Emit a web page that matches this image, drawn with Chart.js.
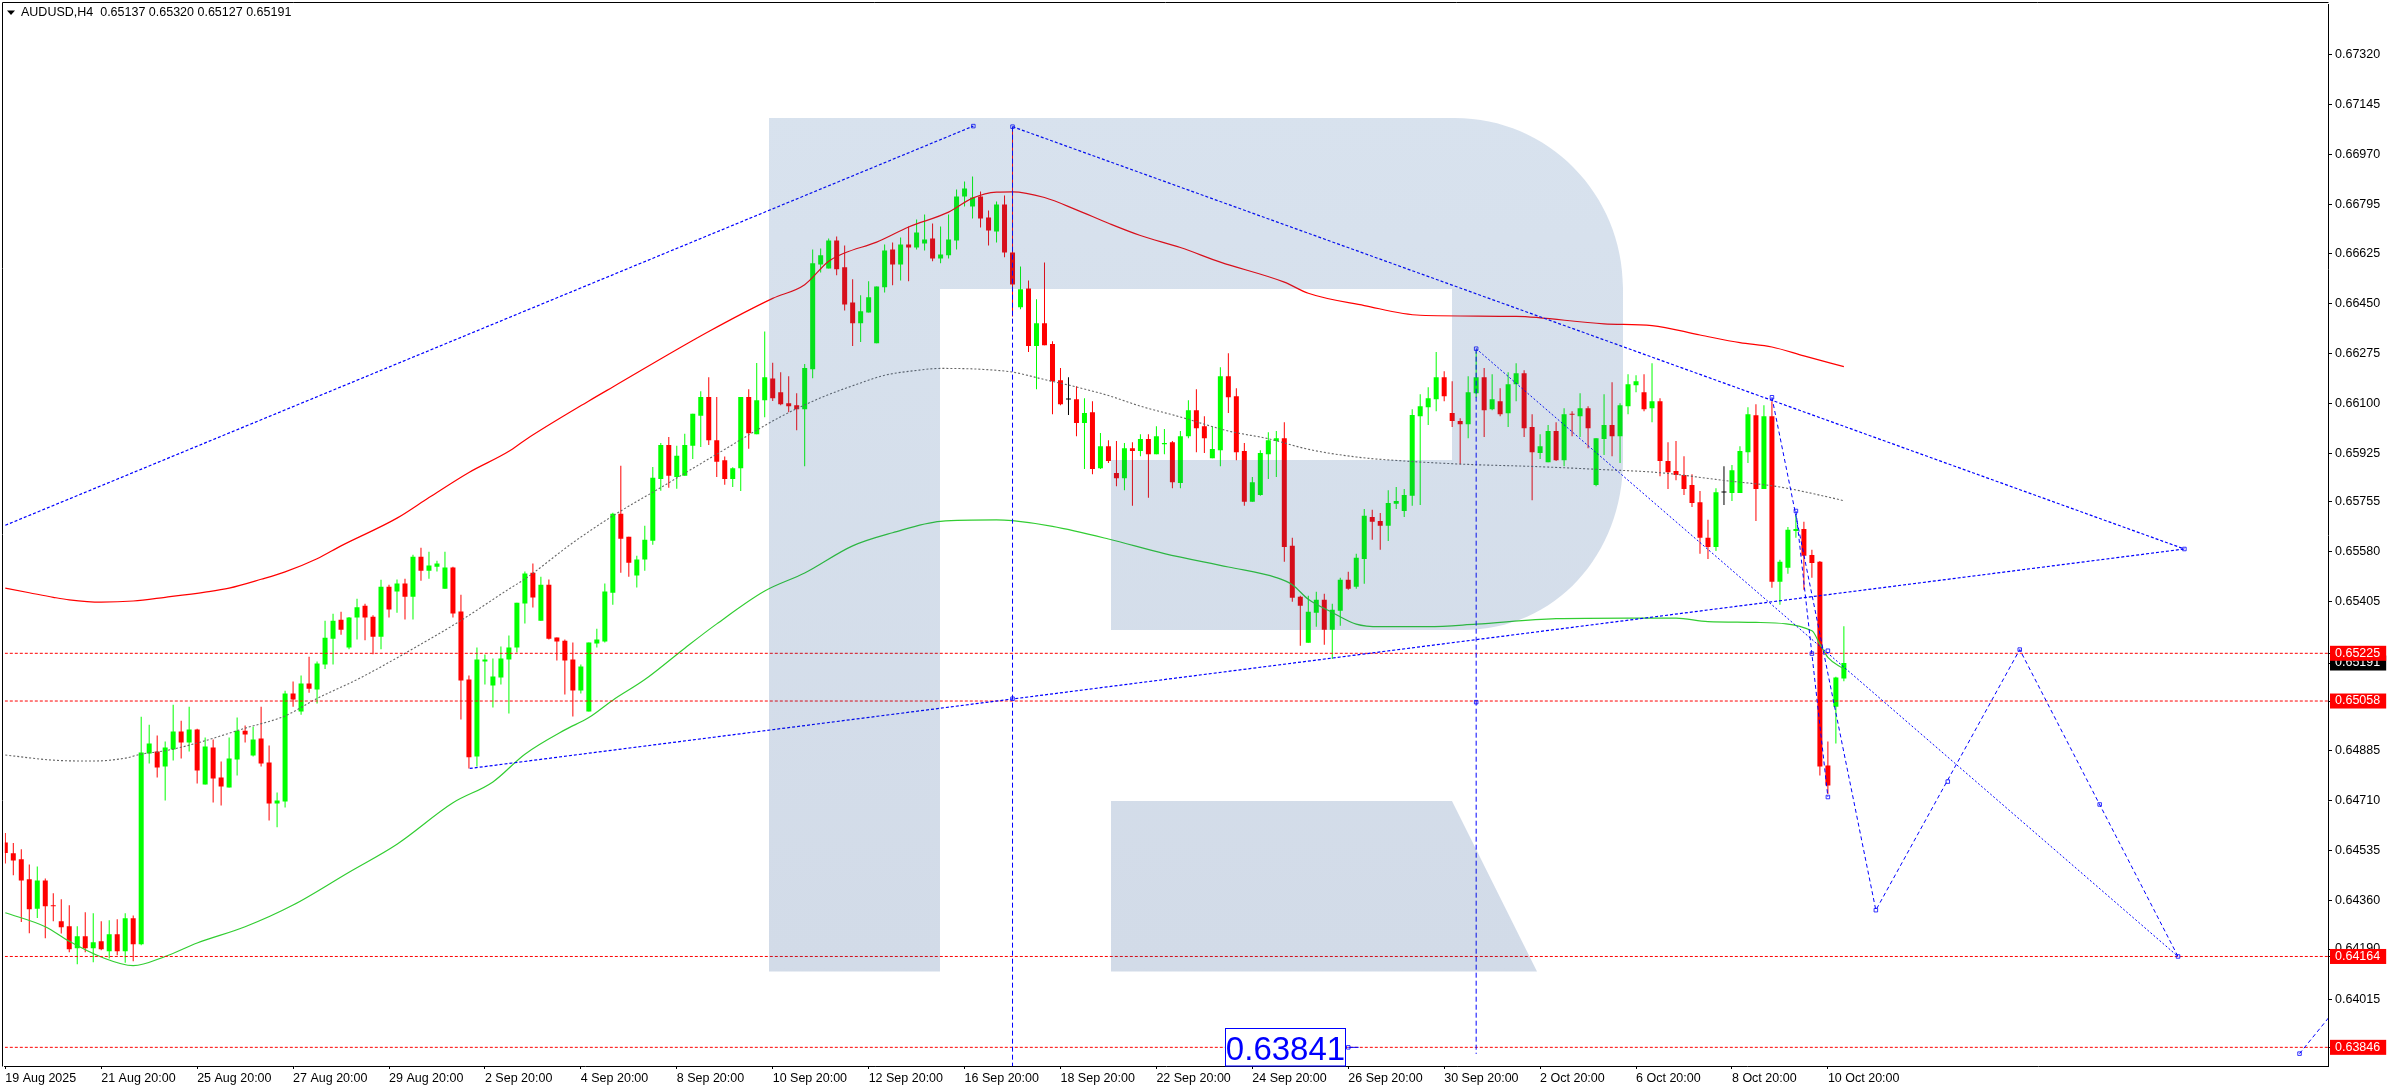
<!DOCTYPE html>
<html><head><meta charset="utf-8">
<style>html,body{margin:0;padding:0;background:#fff}canvas{display:block}</style>
<script src="https://cdn.jsdelivr.net/npm/chart.js@4"></script>
</head><body><canvas id="c" width="2392" height="1090"></canvas>
<script>
const open=[
0.64563,0.64525,0.64504,0.64434,0.64331,0.64430,0.64343,0.64287,0.64270,0.64193,
0.64235,0.64193,0.64217,0.64182,0.64242,0.64182,0.64298,0.64207,0.64874,0.64881,
0.64829,0.64888,0.64951,0.64913,0.64958,0.64766,0.64895,0.64790,0.64755,0.64853,
0.64954,0.64867,0.64927,0.64843,0.64699,0.64706,0.65084,0.65021,0.65119,0.65098,
0.65186,0.65276,0.65342,0.65245,0.65350,0.65391,0.65353,0.65283,0.65458,0.65441,
0.65469,0.65423,0.65563,0.65514,0.65528,0.65451,0.65525,0.65371,0.65133,0.64864,
0.65196,0.65112,0.65140,0.65203,0.65245,0.65399,0.65507,0.65339,0.65465,0.65280,
0.65269,0.65203,0.65095,0.65021,0.65259,0.65266,0.65437,0.65713,0.65633,0.65497,
0.65553,0.65619,0.65835,0.65954,0.65842,0.65846,0.65951,0.66056,0.66122,0.65971,
0.65901,0.65835,0.65873,0.66122,0.65992,0.66111,0.66187,0.66139,0.66100,0.66093,
0.66079,0.66219,0.66586,0.66572,0.66670,0.66576,0.66453,0.66380,0.66418,0.66310,
0.66506,0.66638,0.66586,0.66656,0.66645,0.66659,0.66677,0.66607,0.66618,0.66670,
0.66824,0.66789,0.66824,0.66750,0.66701,0.66796,0.66628,0.66436,0.66502,0.66300,
0.66380,0.66307,0.66181,0.66113,0.66114,0.66031,0.66069,0.65873,0.65950,0.65856,
0.65838,0.65943,0.65933,0.65975,0.65922,0.65957,0.65964,0.65821,0.65985,0.66076,
0.66020,0.65908,0.65936,0.66195,0.66125,0.65933,0.65755,0.65779,0.65922,0.65968,
0.65978,0.65601,0.65423,0.65262,0.65367,0.65412,0.65307,0.65374,0.65482,0.65458,
0.65555,0.65702,0.65688,0.65671,0.65748,0.65723,0.65776,0.66055,0.66086,0.66114,
0.66191,0.66066,0.66038,0.66027,0.66135,0.66191,0.66079,0.66107,0.66065,0.66167,
0.66205,0.66017,0.65926,0.65894,0.66003,0.65901,0.66063,0.66055,0.66083,0.65814,
0.65975,0.66024,0.65985,0.66090,0.66163,0.66139,0.66083,0.66107,0.65898,0.65863,
0.65849,0.65814,0.65754,0.65629,0.65597,0.65788,0.65786,0.65786,0.65929,0.66058,
0.65800,0.66055,0.65475,0.65524,0.65653,0.65660,0.65569,0.65545,0.64832,0.65038,
0.65137];
const high=[
0.64596,0.64561,0.64539,0.64486,0.64479,0.64437,0.64385,0.64364,0.64343,0.64270,
0.64319,0.64315,0.64287,0.64291,0.64294,0.64315,0.64307,0.65003,0.64975,0.64937,
0.64916,0.65045,0.64989,0.65038,0.64961,0.64930,0.64923,0.64846,0.64930,0.65000,
0.64972,0.64968,0.65038,0.64902,0.64738,0.65094,0.65126,0.65147,0.65213,0.65196,
0.65339,0.65363,0.65370,0.65352,0.65416,0.65398,0.65358,0.65482,0.65465,0.65483,
0.65486,0.65570,0.65594,0.65580,0.65549,0.65580,0.65528,0.65430,0.65147,0.65245,
0.65221,0.65207,0.65249,0.65287,0.65402,0.65511,0.65539,0.65493,0.65483,0.65280,
0.65273,0.65263,0.65186,0.65263,0.65311,0.65469,0.65717,0.65881,0.65633,0.65566,
0.65671,0.65877,0.65961,0.65982,0.65951,0.65993,0.66063,0.66142,0.66191,0.66122,
0.65914,0.65876,0.66122,0.66149,0.66241,0.66351,0.66242,0.66209,0.66195,0.66135,
0.66237,0.66638,0.66642,0.66677,0.66684,0.66652,0.66534,0.66478,0.66527,0.66509,
0.66656,0.66663,0.66680,0.66719,0.66743,0.66761,0.66729,0.66719,0.66761,0.66848,
0.66876,0.66894,0.66841,0.66775,0.66806,0.66827,0.67061,0.66579,0.66530,0.66464,
0.66593,0.66317,0.66223,0.66191,0.66160,0.66118,0.66107,0.65996,0.65971,0.65968,
0.65961,0.65964,0.65992,0.65992,0.66020,0.66010,0.65968,0.66003,0.66111,0.66149,
0.66055,0.66020,0.66226,0.66275,0.66153,0.65961,0.65842,0.65936,0.65999,0.66003,
0.66034,0.65629,0.65426,0.65426,0.65440,0.65433,0.65398,0.65489,0.65510,0.65573,
0.65730,0.65727,0.65716,0.65796,0.65807,0.65800,0.66079,0.66132,0.66156,0.66279,
0.66212,0.66177,0.66048,0.66195,0.66282,0.66223,0.66202,0.66153,0.66209,0.66240,
0.66216,0.66062,0.65992,0.66024,0.66034,0.66083,0.66072,0.66135,0.66090,0.65978,
0.66132,0.66174,0.66100,0.66202,0.66198,0.66202,0.66240,0.66118,0.65964,0.65968,
0.65915,0.65852,0.65793,0.65692,0.65803,0.65880,0.65884,0.65950,0.66086,0.66097,
0.66093,0.66107,0.65552,0.65667,0.65711,0.65685,0.65587,0.65548,0.64916,0.65143,
0.65320];
const low=[
0.64489,0.64448,0.64285,0.64245,0.64299,0.64228,0.64287,0.64244,0.64179,0.64137,
0.64179,0.64144,0.64186,0.64157,0.64168,0.64142,0.64147,0.64203,0.64839,0.64790,
0.64710,0.64850,0.64857,0.64881,0.64769,0.64766,0.64703,0.64692,0.64755,0.64797,
0.64913,0.64864,0.64829,0.64640,0.64616,0.64685,0.65038,0.65010,0.65087,0.65049,
0.65170,0.65186,0.65290,0.65239,0.65273,0.65271,0.65222,0.65239,0.65350,0.65367,
0.65343,0.65343,0.65479,0.65486,0.65511,0.65451,0.65350,0.64993,0.64822,0.64829,
0.65116,0.65035,0.65116,0.65014,0.65228,0.65329,0.65385,0.65339,0.65273,0.65200,
0.65081,0.65004,0.65084,0.65021,0.65245,0.65263,0.65395,0.65507,0.65493,0.65455,
0.65514,0.65605,0.65794,0.65804,0.65801,0.65846,0.65905,0.65947,0.65954,0.65842,
0.65815,0.65807,0.65793,0.65941,0.65992,0.66051,0.66108,0.66093,0.66069,0.66006,
0.65880,0.66188,0.66558,0.66572,0.66548,0.66425,0.66300,0.66314,0.66418,0.66310,
0.66488,0.66513,0.66530,0.66527,0.66638,0.66635,0.66597,0.66590,0.66607,0.66638,
0.66789,0.66747,0.66715,0.66652,0.66663,0.66611,0.66404,0.66429,0.66279,0.66149,
0.66303,0.66062,0.66093,0.66059,0.65985,0.65870,0.65852,0.65870,0.65891,0.65810,
0.65796,0.65741,0.65915,0.65769,0.65922,0.65922,0.65803,0.65803,0.65978,0.65929,
0.65926,0.65908,0.65880,0.66066,0.65901,0.65741,0.65755,0.65776,0.65835,0.65842,
0.65545,0.65405,0.65251,0.65262,0.65318,0.65255,0.65205,0.65321,0.65447,0.65451,
0.65468,0.65622,0.65587,0.65618,0.65730,0.65702,0.65741,0.65744,0.66024,0.66072,
0.66107,0.66017,0.65887,0.65978,0.66119,0.65982,0.66076,0.66055,0.66017,0.66107,
0.65982,0.65761,0.65905,0.65894,0.65898,0.65880,0.65985,0.65982,0.65943,0.65810,
0.65919,0.65915,0.65891,0.66062,0.66139,0.66072,0.66034,0.65845,0.65800,0.65831,
0.65779,0.65737,0.65573,0.65555,0.65583,0.65744,0.65758,0.65786,0.65891,0.65688,
0.65800,0.65454,0.65395,0.65503,0.65629,0.65447,0.65489,0.64797,0.64733,0.64909,
0.65127];
const close=[
0.64526,0.64500,0.64430,0.64329,0.64430,0.64340,0.64340,0.64266,0.64189,0.64235,
0.64193,0.64214,0.64189,0.64242,0.64182,0.64298,0.64207,0.64878,0.64909,0.64825,
0.64895,0.64951,0.64913,0.64958,0.64815,0.64899,0.64787,0.64759,0.64857,0.64954,
0.64941,0.64923,0.64839,0.64699,0.64710,0.65084,0.65063,0.65119,0.65101,0.65189,
0.65279,0.65339,0.65307,0.65350,0.65386,0.65350,0.65283,0.65458,0.65378,0.65469,
0.65423,0.65563,0.65514,0.65532,0.65539,0.65525,0.65364,0.65130,0.64861,0.65203,
0.65203,0.65144,0.65207,0.65245,0.65402,0.65504,0.65420,0.65465,0.65276,0.65266,
0.65200,0.65095,0.65179,0.65263,0.65273,0.65441,0.65713,0.65626,0.65542,0.65553,
0.65622,0.65839,0.65954,0.65846,0.65916,0.65954,0.66063,0.66122,0.65971,0.65895,
0.65835,0.65873,0.66122,0.65995,0.66111,0.66191,0.66118,0.66097,0.66090,0.66079,
0.66223,0.66590,0.66618,0.66670,0.66569,0.66446,0.66380,0.66422,0.66471,0.66509,
0.66635,0.66586,0.66656,0.66645,0.66698,0.66673,0.66607,0.66621,0.66673,0.66824,
0.66852,0.66820,0.66747,0.66705,0.66796,0.66628,0.66516,0.66499,0.66300,0.66380,
0.66303,0.66177,0.66097,0.66113,0.66031,0.66066,0.65870,0.65950,0.65898,0.65838,
0.65943,0.65933,0.65975,0.65922,0.65985,0.65961,0.65824,0.65985,0.66076,0.66013,
0.65978,0.65940,0.66195,0.66121,0.65929,0.65755,0.65824,0.65926,0.65971,0.65978,
0.65597,0.65419,0.65391,0.65370,0.65412,0.65307,0.65377,0.65482,0.65451,0.65559,
0.65706,0.65685,0.65671,0.65751,0.65758,0.65779,0.66059,0.66090,0.66118,0.66191,
0.66125,0.66038,0.66027,0.66139,0.66191,0.66076,0.66114,0.66062,0.66167,0.66205,
0.66013,0.65929,0.65950,0.66003,0.65901,0.66062,0.66060,0.66083,0.66013,0.65978,
0.66024,0.65985,0.66093,0.66167,0.66177,0.66079,0.66107,0.65898,0.65859,0.65849,
0.65800,0.65751,0.65629,0.65597,0.65789,0.65788,0.65866,0.65933,0.66062,0.65800,
0.66055,0.65475,0.65545,0.65657,0.65660,0.65566,0.65541,0.64829,0.64762,0.65140,
0.65191];

const dateLabels=['19 Aug 2025','21 Aug 20:00','25 Aug 20:00','27 Aug 20:00','29 Aug 20:00','2 Sep 20:00','4 Sep 20:00','8 Sep 20:00','10 Sep 20:00','12 Sep 20:00','16 Sep 20:00','18 Sep 20:00','22 Sep 20:00','24 Sep 20:00','26 Sep 20:00','30 Sep 20:00','2 Oct 20:00','6 Oct 20:00','8 Oct 20:00','10 Oct 20:00'];
const dateTickBars=[0,12,24,36,48,60,72,84,96,108,120,132,144,156,168,180,192,204,216,228];

const priceTicks=[0.67320,0.67145,0.66970,0.66795,0.66625,0.66450,0.66275,0.66100,0.65925,0.65755,0.65580,0.65405,0.64885,0.64710,0.64535,0.64360,0.64190,0.64015];
const currentPrice=0.65191;
const levels=[0.65225,0.65058,0.64164,0.63846];

const slowMaX=[0,3,6,8,12,16,20,25,28,32,35,39,42,49,53,58,63,65,73,76,88,96,100,103,105,109,113,118,121,124,126,130,134,138,142,147,152,160,163,170,177,189,200,206,212,217,221,225,230];
const slowMaY=[0.65453,0.65437,0.65421,0.65412,0.65404,0.65408,0.65421,0.65439,0.65453,0.65484,0.65510,0.65556,0.65601,0.65698,0.65770,0.65858,0.65932,0.65971,0.66108,0.66157,0.66351,0.66467,0.66515,0.66597,0.66626,0.66664,0.66717,0.66769,0.66818,0.66839,0.66840,0.66820,0.66777,0.66730,0.66687,0.66645,0.66594,0.66524,0.66485,0.66442,0.66408,0.66404,0.66378,0.66372,0.66339,0.66312,0.66297,0.66266,0.66228];
const midMaX=[0,6,11,15,17,20,24,30,35,39,44,50,57,63,65,71,76,82,89,97,102,107,110,114,117,122,126,130,134,138,142,147,153,158,163,169,175,183,191,199,207,215,222,228,230];
const midMaY=[0.64869,0.64851,0.64848,0.64858,0.64872,0.64884,0.64911,0.64963,0.65006,0.65067,0.65133,0.65225,0.65340,0.65450,0.65485,0.65612,0.65706,0.65805,0.65922,0.66053,0.66119,0.66171,0.66198,0.66215,0.66222,0.66219,0.66209,0.66183,0.66157,0.66127,0.66090,0.66052,0.66003,0.65976,0.65939,0.65912,0.65898,0.65886,0.65879,0.65869,0.65857,0.65830,0.65807,0.65772,0.65759];
const fastMaX=[0,5,8,12,16,20,24,30,36,43,49,56,61,65,70,73,76,80,85,89,95,100,106,111,117,124,126,131,138,145,153,159,161,163,166,169,172,178,184,194,203,209,213,219,226,227,228,230];
const fastMaY=[0.64317,0.64268,0.64217,0.64162,0.64132,0.64164,0.64211,0.64268,0.64344,0.64459,0.64557,0.64702,0.64775,0.64872,0.64957,0.65000,0.65061,0.65133,0.65243,0.65328,0.65443,0.65506,0.65601,0.65647,0.65687,0.65692,0.65689,0.65669,0.65625,0.65574,0.65527,0.65490,0.65465,0.65414,0.65368,0.65327,0.65318,0.65318,0.65327,0.65346,0.65348,0.65348,0.65336,0.65333,0.65304,0.65257,0.65211,0.65170];

const trendAX=[0,121.1],trendAY=[0.65673,0.67070];
const trendBX=[126,272.6],trendBY=[0.67068,0.65590];
const trendCX=[58.1,272.6],trendCY=[0.64822,0.65590];
const trendDX=[184,271.8],trendDY=[0.66291,0.64164];
const verticalOneX=[126,126],verticalOneY=[0.67068,0.6378];
const verticalTwoX=[184,184],verticalTwoY=[0.66291,0.63823];
const pathOneX=[221,234,252,271.8],pathOneY=[0.66121,0.64326,0.65238,0.64164];
const pathTwoX=[224,228],pathTwoY=[0.65723,0.64722];
const pathThreeX=[287,291],pathThreeY=[0.63824,0.63962];
const calloutX=[168,169.3],calloutY=[0.63846,0.63846];
const handleX=[121.1,126,184,184,126,272.6,221,224,228,226,228,234,243,252,262,271.8,287,168];
const handleY=[0.67070,0.67068,0.66291,0.65054,0.65066,0.65590,0.66121,0.65723,0.64722,0.65224,0.65234,0.64326,0.64776,0.65238,0.64696,0.64164,0.63824,0.63846];
const calloutText='0.63841';
const headerText='AUDUSD,H4  0.65137 0.65320 0.65127 0.65191';

const FONT='"Liberation Sans"';
const UP='#00ff00',DOWN='#ff0000',BLUE='#0000ff';
const pts=(xs,ys)=>xs.map((x,i)=>({x,y:ys[i]}));
const candleColor=i=>open[i]===close[i]?'#000000':close[i]>open[i]?UP:DOWN;
const barData=(a,b)=>open.map((_,i)=>({x:i,y:[a[i],b[i]]}));
const line=(xs,ys,color,dash,order,width)=>({type:'line',data:pts(xs,ys),borderColor:color,borderWidth:width||1,borderDash:dash||[],pointRadius:0,tension:0,order:order||1,fill:false});
const ma=(xs,ys,color,dash,width)=>Object.assign(line(xs,ys,color,dash,3,width),{cubicInterpolationMode:'monotone'});
const xMin=-0.0625,xMax=290.5625;

const levelSets=levels.map(v=>line([xMin,xMax],[v,v],DOWN,[3,2],2));

const overlay={id:'overlay',
 afterDatasetsDraw(chart){
  const ctx=chart.ctx,a=chart.chartArea,X=chart.scales.x,Y=chart.scales.y;
  ctx.save();
  // brand watermark laid over the marks
  const g=ctx.createLinearGradient(0,118,0,972);
  g.addColorStop(0,'rgba(38,94,160,0.18)');g.addColorStop(1,'rgba(5,55,127,0.18)');
  ctx.fillStyle=g;
  ctx.beginPath();
  ctx.moveTo(769,118);ctx.lineTo(1455,118);
  ctx.bezierCurveTo(1548,118,1623,194,1623,288);
  ctx.lineTo(1623,460);
  ctx.bezierCurveTo(1623,554,1556,630,1463,630);
  ctx.lineTo(1111,630);ctx.lineTo(1111,460);ctx.lineTo(1452,460);ctx.lineTo(1452,289);ctx.lineTo(940,289);ctx.lineTo(940,971.5);ctx.lineTo(769,971.5);ctx.closePath();
  ctx.moveTo(1111,801);ctx.lineTo(1452,801);ctx.lineTo(1537,971.5);ctx.lineTo(1111,971.5);ctx.closePath();
  ctx.fill();
  // frame
  ctx.strokeStyle='#000';ctx.lineWidth=1;
  ctx.beginPath();ctx.moveTo(2.5,1066.5);ctx.lineTo(2.5,2.5);ctx.lineTo(a.right+0.5,2.5);ctx.stroke();
  // header
  ctx.fillStyle='#000';
  ctx.beginPath();ctx.moveTo(7,10.5);ctx.lineTo(15,10.5);ctx.lineTo(11,15);ctx.closePath();ctx.fill();
  ctx.font='12.5px '+FONT;ctx.textAlign='left';ctx.textBaseline='middle';
  ctx.fillText(headerText,21,13);
  // callout box
  const right=Math.round(X.getPixelForValue(calloutX[0]))-3+0.5, top=Math.round(Y.getPixelForValue(calloutY[0]))-19+0.5;
  ctx.font='33px '+FONT;
  const w=120;
  ctx.fillStyle='#fff';ctx.fillRect(right-w,top,w,a.bottom-top);
  ctx.strokeStyle=BLUE;ctx.strokeRect(right-w,top,w,a.bottom-top);
  ctx.fillStyle=BLUE;ctx.textAlign='center';ctx.textBaseline='middle';
  ctx.fillText(calloutText,right-w/2,top+22);
  ctx.restore();
 }};

new Chart(document.getElementById('c'),{
 data:{datasets:[
  ...levelSets,
  line(trendAX,trendAY,BLUE,[3,2],1,1.2),
  line(trendBX,trendBY,BLUE,[3,2],1,1.2),
  line(trendCX,trendCY,BLUE,[3,2],1,1.2),
  line(trendDX,trendDY,BLUE,[2,2],1,1),
  line(verticalOneX,verticalOneY,BLUE,[5,3],1),
  line(verticalTwoX,verticalTwoY,BLUE,[5,3],1),
  line(pathOneX,pathOneY,BLUE,[4,3],1),
  line(pathTwoX,pathTwoY,BLUE,[4,3],1),
  line(pathThreeX,pathThreeY,BLUE,[4,3],1),
  line(calloutX,calloutY,BLUE,[],1),
  {type:'line',data:pts(handleX,handleY),showLine:false,pointStyle:'rect',pointRadius:2.5,pointBorderColor:BLUE,pointBorderWidth:0.8,pointBackgroundColor:'rgba(0,0,0,0)',order:1},
  ma(slowMaX,slowMaY,DOWN,[],1.2),
  ma(midMaX,midMaY,'#666666',[2,2],1.1),
  ma(fastMaX,fastMaY,'#32cd32',[],1.2),
  {type:'bar',data:barData(open,close),grouped:false,barThickness:5,minBarLength:1,inflateAmount:0,borderWidth:0,backgroundColor:c=>candleColor(c.dataIndex),order:5},
  {type:'bar',data:barData(low,high),grouped:false,barThickness:1,inflateAmount:0,borderWidth:0,backgroundColor:c=>candleColor(c.dataIndex),order:6}
 ]},
 options:{responsive:false,animation:false,devicePixelRatio:1,
  layout:{padding:{left:3,top:3,right:0,bottom:0}},
  plugins:{legend:{display:false},tooltip:{enabled:false},title:{display:false}},
  events:[],
  scales:{
   x:{type:'linear',position:'bottom',min:xMin,max:xMax,offset:false,
    afterFit:s=>{s.height=24},
    afterBuildTicks:s=>{s.ticks=dateTickBars.map(v=>({value:v}))},
    grid:{offset:false,drawOnChartArea:false,drawTicks:true,tickLength:3,color:'#000',tickColor:'#000'},
    border:{display:true,color:'#000',width:1},
    ticks:{autoSkip:false,maxRotation:0,minRotation:0,align:'start',padding:2,color:'#000',font:{family:FONT,size:12.5},
     callback:(v)=>dateLabels[dateTickBars.indexOf(v)]}},
   y:{type:'linear',position:'right',min:0.637807,max:0.674945,
    afterFit:s=>{s.width=64;s.paddingTop=0;s.paddingBottom=0},
    afterBuildTicks:s=>{s.ticks=[...priceTicks,currentPrice,...levels].map(v=>({value:v}))},
    grid:{drawOnChartArea:false,drawTicks:true,tickLength:4,color:'#000',tickColor:'#000'},
    border:{display:true,color:'#000',width:1},
    ticks:{autoSkip:false,padding:3,crossAlign:'near',font:{family:FONT,size:12.5},
     color:c=>(levels.includes(c.tick.value)||c.tick.value===currentPrice)?'#fff':'#000',
     showLabelBackdrop:c=>levels.includes(c.tick.value)||c.tick.value===currentPrice,
     backdropColor:c=>c.tick.value===currentPrice?'#000':'#ff0000',
     backdropPadding:{left:5,right:6,top:0,bottom:0},
     callback:v=>v.toFixed(5)}}
  }},
 plugins:[overlay]
});
</script></body></html>
